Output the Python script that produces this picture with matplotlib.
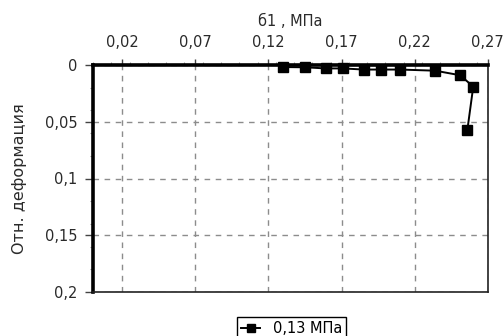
import matplotlib
matplotlib.use('Agg')
import matplotlib.pyplot as plt
from matplotlib.ticker import FixedLocator, MultipleLocator, FuncFormatter

plt.rcParams['font.family'] = ['DejaVu Sans']

# sigma1 (MPa) vs relative strain, confining pressure 0.13 MPa
sigma1 = [0.130, 0.145, 0.159, 0.171, 0.185, 0.197, 0.210, 0.234, 0.251, 0.260, 0.256]
strain = [0.0018, 0.002, 0.003, 0.003, 0.004, 0.004, 0.004, 0.005, 0.009, 0.019, 0.057]
series_label = '0,13 МПа'

x_ticks = [0.02, 0.07, 0.12, 0.17, 0.22, 0.27]
y_ticks = [0, 0.05, 0.1, 0.15, 0.2]


def comma_fmt(v, pos=None):
    return ('%g' % round(v, 4)).replace('.', ',')


fig = plt.figure(figsize=(5.04, 3.36), dpi=100)
ax = fig.add_axes([0.1845, 0.131, 0.7835, 0.6755])

ax.plot(sigma1, strain, color='black', lw=1.4, marker='s', ms=6.5,
        mfc='black', mec='black', label=series_label, zorder=5, clip_on=False)

ax.set_xlim(0, 0.27)
ax.set_ylim(0.2, 0)

ax.xaxis.tick_top()
ax.xaxis.set_label_position('top')
ax.xaxis.set_major_locator(FixedLocator(x_ticks))
ax.xaxis.set_minor_locator(MultipleLocator(0.0125))
ax.yaxis.set_major_locator(FixedLocator(y_ticks))
ax.yaxis.set_minor_locator(MultipleLocator(0.02))
ax.xaxis.set_major_formatter(FuncFormatter(comma_fmt))
ax.yaxis.set_major_formatter(FuncFormatter(comma_fmt))

ax.tick_params(axis='both', which='major', labelsize=10.5, width=1, color='#444444')
ax.tick_params(axis='x', which='major', length=4, pad=7, labelcolor='#2a2a2a')
ax.tick_params(axis='y', which='major', length=6, pad=5, labelcolor='#2a2a2a')
ax.tick_params(axis='both', which='minor', length=2.5, width=0.8, color='#999999')

ax.grid(True, which='major', ls=(0, (4, 4)), color='#8c8c8c', lw=1)

for side in ['top', 'left']:
    ax.spines[side].set_linewidth(2.6)
    ax.spines[side].set_color('black')
for side in ['bottom', 'right']:
    ax.spines[side].set_linewidth(1.2)
    ax.spines[side].set_color('#222222')

ax.set_xlabel('б1 , МПа', fontsize=10.5, labelpad=6, color='#2a2a2a')
ax.set_ylabel('Отн. деформация', fontsize=11.5, labelpad=13, color='#2a2a2a')

fig.legend(loc='upper center', bbox_to_anchor=(0.579, 0.056), fontsize=10.5,
           frameon=True, fancybox=False, edgecolor='black', framealpha=1,
           borderpad=0.25, borderaxespad=0, handlelength=1.3, handletextpad=0.9,
           markerscale=0.8)

fig.savefig('out.png', dpi=100)
